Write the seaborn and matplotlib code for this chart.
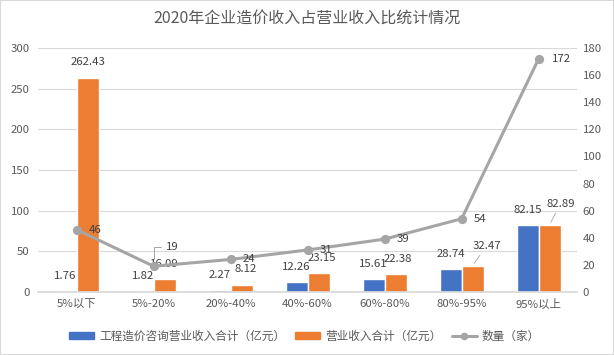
import pandas as pd
import matplotlib.pyplot as plt
import seaborn as sns
from matplotlib.patches import Patch, Rectangle
from matplotlib.lines import Line2D

# data
categories = ['5%以下', '5%-20%', '20%-40%', '40%-60%', '60%-80%', '80%-95%', '95%以上']
consult_income = [1.76, 1.82, 2.27, 12.26, 15.61, 28.74, 82.15]
total_income = [262.43, 16.09, 8.12, 23.15, 22.38, 32.47, 82.89]
company_count = [46, 19, 24, 31, 39, 54, 172]
series_names = ['工程造价咨询营业收入合计（亿元）', '营业收入合计（亿元）']
count_name = '数量（家）'
title = '2020年企业造价收入占营业收入比统计情况'
left_ticks = [0, 50, 100, 150, 200, 250, 300]
right_ticks = [0, 20, 40, 60, 80, 100, 120, 140, 160, 180]

BLUE = '#4472C4'
ORANGE = '#ED7D31'
GREY = '#A5A5A5'
TEXT = '#595959'
LABEL = '#404040'
GRID = '#D9D9D9'
FS = 8.2

sns.set_theme(style='white')
plt.rcParams['font.family'] = ['Noto Sans CJK SC', 'DejaVu Sans']

df = pd.DataFrame({
    'category': categories * 2,
    'value': consult_income + total_income,
    'series': [series_names[0]] * len(categories) + [series_names[1]] * len(categories),
})

fig = plt.figure(figsize=(6.14, 3.55), dpi=100)
ax = fig.add_axes([0.062, 0.1775, 0.878, 0.6875])

sns.barplot(data=df, x='category', y='value', hue='series', palette=[BLUE, ORANGE],
            width=0.57, gap=0, saturation=1, ax=ax, legend=False)
ax.set_ylim(0, 300)
ax.set_yticks(left_ticks)
ax.set_xlim(-0.5, len(categories) - 0.5)
ax.set_xlabel('')
ax.set_ylabel('')
ax.yaxis.grid(True, color=GRID, lw=0.8)
ax.set_axisbelow(True)
for s in ['left', 'right', 'top']:
    ax.spines[s].set_visible(False)
ax.spines['bottom'].set_color(GRID)
ax.tick_params(length=0, labelsize=FS, labelcolor=TEXT)
ax.tick_params(axis='y', pad=6)
ax.tick_params(axis='x', pad=5)

# line series on the secondary axis
ax2 = ax.twinx()
sns.pointplot(x=categories, y=company_count, color=GREY, markers='o', markersize=5,
              linewidth=2.2, errorbar=None, ax=ax2)
ax2.set_ylim(0, 180)
ax2.set_yticks(right_ticks)
ax2.set_xlim(-0.5, len(categories) - 0.5)
ax2.set_ylabel('')
for s in ax2.spines.values():
    s.set_visible(False)
ax2.tick_params(length=0, labelsize=FS, labelcolor=TEXT, pad=4)
ax2.grid(False)

# bar labels (offsets in pixels from bar top)
blue_offsets = [(0, 15)] * 7
orange_offsets = [(0, 16), (0, 15), (4, 16), (3, 15), (2, 15), (14, 20), (11, 21)]
for cont, vals, offs in zip(ax.containers, [consult_income, total_income], [blue_offsets, orange_offsets]):
    for bar, v, off in zip(cont.patches, vals, offs):
        x = bar.get_x() + bar.get_width() / 2
        ap = None
        if off[1] > 17:
            ap = dict(arrowstyle='-', color=GREY, lw=0.6, shrinkA=1, shrinkB=2)
        ax.annotate(f'{v:.2f}', xy=(x, bar.get_height()), xytext=off, textcoords='offset pixels',
                    ha='center', va='center', fontsize=FS, color=LABEL, arrowprops=ap)

# line labels
count_offsets = [(12, 0), (12, 19), (12, 0), (12, 0), (12, 0), (12, 0), (13, 0)]
for i, (v, off) in enumerate(zip(company_count, count_offsets)):
    ap = None
    if off[1] > 0:
        ap = dict(arrowstyle='-', color=GREY, lw=0.7, shrinkA=1, shrinkB=5,
                  connectionstyle='angle,angleA=0,angleB=90,rad=0')
    ax2.annotate(str(v), xy=(i, v), xytext=off, textcoords='offset pixels',
                 ha='left', va='center', fontsize=FS, color=LABEL, arrowprops=ap)

fig.text(0.5, 1 - 19 / 355, title, ha='center', va='center', fontsize=11.5, color=TEXT)

handles = [Patch(color=BLUE), Patch(color=ORANGE),
           Line2D([], [], color=GREY, lw=2.2, marker='o', markersize=4.5)]
leg = fig.legend(handles, series_names + [count_name], loc='center',
                 bbox_to_anchor=(304.5 / 614, 1 - 336 / 355), ncol=3, frameon=False,
                 fontsize=8.4, handlelength=2.15, handleheight=0.6,
                 handletextpad=0.43, columnspacing=0.86)
for t in leg.get_texts():
    t.set_color(TEXT)

fig.patches.append(Rectangle((0, 0), 1, 1, transform=fig.transFigure, fill=False,
                             edgecolor=GRID, lw=1.5))

fig.savefig('out.png', dpi=100)
